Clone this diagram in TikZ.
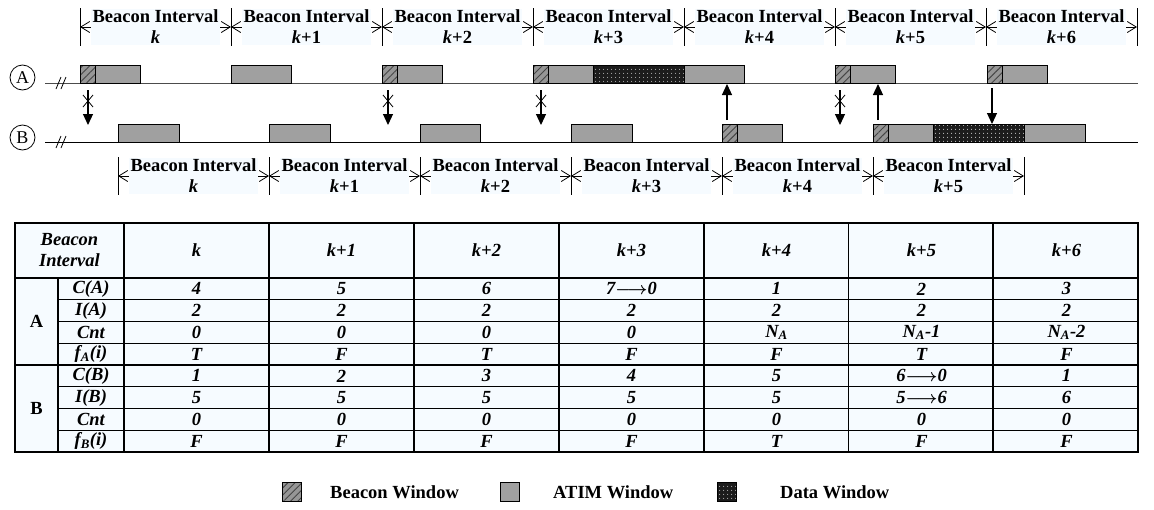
\documentclass[tikz,border=0pt]{standalone}
\usepackage{fontspec}
\setmainfont{Liberation Serif}
\usetikzlibrary{arrows.meta,patterns.meta,calc}

\definecolor{atim}{RGB}{160,160,160}
\definecolor{bcn}{RGB}{150,150,150}
\definecolor{hatchc}{RGB}{70,70,70}
\definecolor{datafill}{RGB}{28,28,28}
\definecolor{cell}{RGB}{246,251,255}

\newcommand\chg[2]{#1{\boldmath$\longrightarrow$}#2}
\newcommand\myNA{N\textsubscript{A}}

\tikzset{
  txt/.style={font=\fontsize{18.5}{21}\selectfont\bfseries, inner sep=0pt},
  itx/.style={font=\fontsize{18.5}{21}\selectfont\bfseries\itshape, inner sep=0pt},
  bwin/.style={draw=black, line width=0.9pt, preaction={fill=bcn},
    pattern={Lines[angle=45,distance=5pt,line width=0.9pt]}, pattern color=hatchc},
  awin/.style={draw=black, line width=0.9pt, fill=atim},
  dwin/.style={draw=black, line width=0.9pt, preaction={fill=datafill},
    pattern={Dots[distance=4pt,radius=0.55pt]}, pattern color=white},
  tickln/.style={line width=0.9pt},
  ivspan/.style={line width=0.8pt,
    {Straight Barb[length=9pt,width=11pt]}-{Straight Barb[length=9pt,width=11pt]}},
  lbl/.style={txt, fill=cell, align=center, inner xsep=2pt, inner ysep=1pt},
  sig/.style={line width=1.2pt, -{Triangle[length=11pt,width=10pt]}},
  xline/.style={line width=0.8pt},
  tblline/.style={line width=1.1pt},
  station/.style={draw, circle, minimum size=25pt, inner sep=0pt, line width=0.8pt,
    font=\fontsize{18}{18}\selectfont},
}

\begin{document}
\begin{tikzpicture}[x=1pt,y=-1pt]
\useasboundingbox (0,0) rectangle (1154,509);

% ---------- stations and their time lines ----------
\node[station] (sa) at (22.5,77.5) {A};
\node[station] (sb) at (22.5,137.5) {B};
\coordinate (la0) at (45,83);  \coordinate (la1) at (1138,83);
\coordinate (lb0) at (45,142); \coordinate (lb1) at (1138,142);
\draw[line width=0.9pt, black!70] (la0) -- (la1);
\draw[line width=0.9pt] (lb0) -- (lb1);
\foreach \y in {83,142}{
  \draw[line width=0.8pt] (56,\y+6) -- (61,\y-6);
  \draw[line width=0.8pt] (61,\y+6) -- (66,\y-6);
}

% ---------- windows of station A ----------
\foreach \x in {80,382,533,835,987}
  \draw[bwin] (\x,65) rectangle ++(15,18);
\foreach \a/\b in {95/140,231/291,397/442,548/593,684/744,850/895,1002/1047}
  \draw[awin] (\a,65) rectangle (\b,83);
\draw[dwin] (593,65) rectangle (684,83);

% ---------- windows of station B ----------
\foreach \x in {722,873}
  \draw[bwin] (\x,124) rectangle ++(15,18);
\foreach \a/\b in {118/179,269/330,420/480,571/632,737/782,888/933,1024/1085}
  \draw[awin] (\a,124) rectangle (\b,142);
\draw[dwin] (933,124) rectangle (1024,142);

% ---------- beacon intervals of A (top) ----------
\foreach \x in {80,231,382,533,684,835,986,1137}
  \draw[tickln] (\x,8) -- (\x,46);
\foreach \a/\b/\t [count=\i from 0] in
  {80/231/{\textit{k}},231/382/{\textit{k}+1},382/533/{\textit{k}+2},
   533/684/{\textit{k}+3},684/835/{\textit{k}+4},835/986/{\textit{k}+5},
   986/1137/{\textit{k}+6}}{
  \coordinate (ta\i l) at (\a,27);
  \coordinate (ta\i r) at (\b,27);
  \draw[ivspan] (ta\i l) -- (ta\i r);
  \node[lbl] (ta\i) at ($(ta\i l)!0.5!(ta\i r)$) {Beacon Interval\\\t};
}

% ---------- beacon intervals of B (bottom) ----------
\foreach \x in {118,269,420,571,722,873,1024}
  \draw[tickln] (\x,157) -- (\x,195);
\foreach \a/\b/\t [count=\i from 0] in
  {118/269/{\textit{k}},269/420/{\textit{k}+1},420/571/{\textit{k}+2},
   571/722/{\textit{k}+3},722/873/{\textit{k}+4},873/1024/{\textit{k}+5}}{
  \coordinate (tb\i l) at (\a,176);
  \coordinate (tb\i r) at (\b,176);
  \draw[ivspan] (tb\i l) -- (tb\i r);
  \node[lbl] (tb\i) at ($(tb\i l)!0.5!(tb\i r)$) {Beacon Interval\\\t};
}

% ---------- beacons sent between the stations ----------
% lost beacons from A to B
\foreach \x [count=\i] in {88,388,541,840}{
  \coordinate (ls\i) at (\x,90);
  \coordinate (le\i) at (\x,125);
  \draw[sig] (ls\i) -- (le\i);
  \draw[xline] (\x-5,95) -- (\x+5,107);
  \draw[xline] (\x-5,107) -- (\x+5,95);
}
% received beacons from B to A
\foreach \x [count=\i] in {727,878}{
  \coordinate (us\i) at (\x,120);
  \coordinate (ue\i) at (\x,84);
  \draw[sig] (us\i) -- (ue\i);
}
% received beacon from A to B
\coordinate (ds) at (992,88);
\coordinate (de) at (992,124);
\draw[sig] (ds) -- (de);

% ---------- state table ----------
\fill[cell] (15,223) rectangle (1138,452);
\draw[tblline] (15,223) rectangle (1138,452);
\draw[tblline] (15,278) -- (1138,278);
\draw[tblline] (15,365) -- (1138,365);
\foreach \y in {299.75,321.5,343.25,386.75,408.5,430.25}
  \draw[tblline] (58,\y) -- (1138,\y);
\draw[tblline] (58,278) -- (58,452);
\foreach \x in {124,269,414,559,704,848.5,993}
  \draw[tblline] (\x,223) -- (\x,452);

\node[itx, align=center] (hbi) at (69.5,250.5) {Beacon\\Interval};
\foreach \t [count=\i from 0] in {k,k+1,k+2,k+3,k+4,k+5,k+6}
  \node[itx] (h\i) at (196.5+145*\i,250.5) {\t};

\node[txt] (ga) at (36.5,321.5) {A};
\node[txt] (gb) at (36.5,408.5) {B};
\foreach \t [count=\j from 0] in
  {C(A),I(A),Cnt,{f\textsubscript{A}(i)},C(B),I(B),Cnt,{f\textsubscript{B}(i)}}
  \node[itx] (r\j) at (91,288.875+21.75*\j) {\t};

\foreach \vals [count=\j from 0] in {
  {4,5,6,{\chg{7}{0}},1,2,3},
  {2,2,2,2,2,2,2},
  {0,0,0,0,{\myNA},{\myNA-1},{\myNA-2}},
  {T,F,T,F,F,T,F},
  {1,2,3,4,5,{\chg{6}{0}},1},
  {5,5,5,5,5,{\chg{5}{6}},6},
  {0,0,0,0,0,0,0},
  {F,F,F,F,T,F,F}}{
  \foreach \v [count=\i from 0] in \vals
    \node[itx] (v\j-\i) at (196.5+145*\i,288.875+21.75*\j) {\v};
}

% ---------- legend ----------
\node[bwin, minimum size=19pt, inner sep=0pt] (kb) at (292,492) {};
\node[txt, anchor=west] (kbt) at (330,492) {Beacon Window};
\node[awin, minimum size=19pt, inner sep=0pt] (ka) at (509.5,492) {};
\node[txt, anchor=west] (kat) at (553,492) {ATIM Window};
\node[dwin, minimum size=19pt, inner sep=0pt] (kd) at (727,492) {};
\node[txt, anchor=west] (kdt) at (780,492) {Data Window};
\end{tikzpicture}
\end{document}
